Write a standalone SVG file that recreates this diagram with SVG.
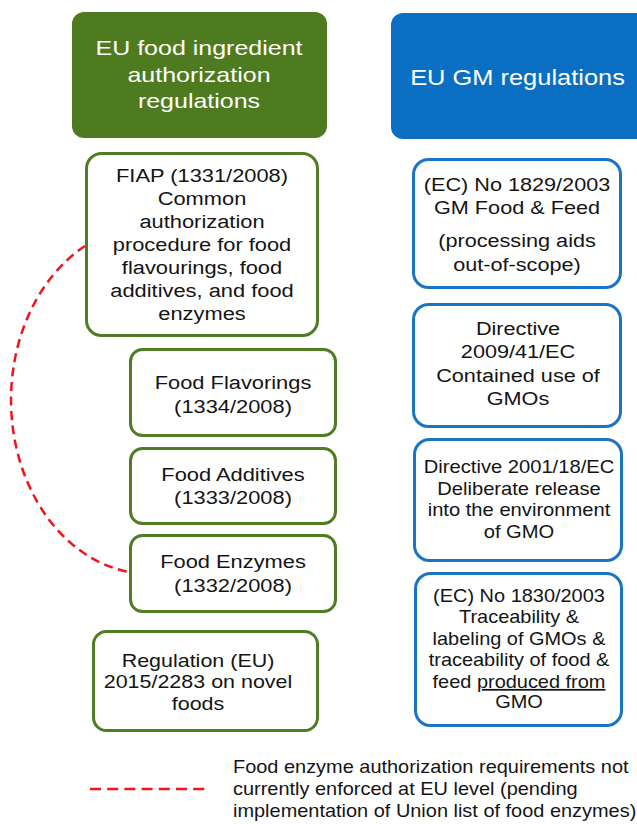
<svg xmlns="http://www.w3.org/2000/svg" width="637" height="824" viewBox="0 0 637 824">
<style>
  text { font-family: "Liberation Sans", Arial, sans-serif; fill: #141414; }
  .hdr { fill: #ffffff; }
  .c { text-anchor: middle; }
  .gbox { fill: #ffffff; stroke: #4f7d23; stroke-width: 3; }
  .bbox { fill: #ffffff; stroke: #1a74c4; stroke-width: 3; }
  .red { fill: none; stroke: #f2141c; stroke-width: 2.5; }
</style>
<rect width="637" height="824" fill="#ffffff"/>

<g id="hdr-food">
  <rect x="72" y="12" width="255" height="126" rx="12" fill="#4e7b1f"/>
  <g transform="translate(199 0) scale(1.19 1)" font-size="21">
    <text class="hdr c" x="0" y="55">EU food ingredient</text>
    <text class="hdr c" x="0" y="82">authorization</text>
    <text class="hdr c" x="0" y="108">regulations</text>
  </g>
</g>

<g id="hdr-gm">
  <rect x="391" y="13" width="270" height="126" rx="12" fill="#0a6fc2"/>
  <g transform="translate(517.5 0) scale(1.13 1)" font-size="22.5">
    <text class="hdr c" x="0" y="85">EU GM regulations</text>
  </g>
</g>

<g id="fiap">
  <rect class="gbox" x="86.5" y="153.5" width="231" height="182" rx="15"/>
  <g transform="translate(202 0) scale(1.15 1)" font-size="19">
    <text class="c" x="0" y="182">FIAP (1331/2008)</text>
    <text class="c" x="0" y="205">Common</text>
    <text class="c" x="0" y="228">authorization</text>
    <text class="c" x="0" y="251">procedure for food</text>
    <text class="c" x="0" y="274">flavourings, food</text>
    <text class="c" x="0" y="297">additives, and food</text>
    <text class="c" x="0" y="320">enzymes</text>
  </g>
</g>

<g id="flavorings">
  <rect class="gbox" x="130.5" y="349.5" width="205" height="86" rx="12"/>
  <g transform="translate(233 0) scale(1.15 1)" font-size="19">
    <text class="c" x="0" y="389">Food Flavorings</text>
    <text class="c" x="0" y="413">(1334/2008)</text>
  </g>
</g>

<g id="additives">
  <rect class="gbox" x="130.5" y="448.5" width="205" height="75" rx="12"/>
  <g transform="translate(233 0) scale(1.15 1)" font-size="19">
    <text class="c" x="0" y="481">Food Additives</text>
    <text class="c" x="0" y="504">(1333/2008)</text>
  </g>
</g>

<g id="enzymes">
  <rect class="gbox" x="130.5" y="535.5" width="205" height="76" rx="12"/>
  <g transform="translate(233 0) scale(1.15 1)" font-size="19">
    <text class="c" x="0" y="568">Food Enzymes</text>
    <text class="c" x="0" y="592">(1332/2008)</text>
  </g>
</g>

<g id="novel">
  <rect class="gbox" x="93.5" y="631.5" width="224" height="99" rx="13"/>
  <g transform="translate(198 0) scale(1.13 1)" font-size="19">
    <text class="c" x="0" y="667">Regulation (EU)</text>
    <text class="c" x="0" y="688">2015/2283 on novel</text>
    <text class="c" x="0" y="710">foods</text>
  </g>
</g>

<g id="gm1829">
  <rect class="bbox" x="413.5" y="159.5" width="207" height="128" rx="15"/>
  <g transform="translate(517 0) scale(1.14 1)" font-size="19">
    <text class="c" x="0" y="191">(EC) No 1829/2003</text>
    <text class="c" x="0" y="214">GM Food &amp; Feed</text>
    <text class="c" x="0" y="247">(processing aids</text>
    <text class="c" x="0" y="271">out-of-scope)</text>
  </g>
</g>

<g id="dir2009">
  <rect class="bbox" x="413.5" y="304.5" width="207" height="122" rx="15"/>
  <g transform="translate(518 0) scale(1.14 1)" font-size="19">
    <text class="c" x="0" y="335">Directive</text>
    <text class="c" x="0" y="358">2009/41/EC</text>
    <text class="c" x="0" y="382">Contained use of</text>
    <text class="c" x="0" y="405">GMOs</text>
  </g>
</g>

<g id="dir2001">
  <rect class="bbox" x="414.5" y="439.5" width="207" height="121" rx="15"/>
  <g transform="translate(519 0) scale(1.12 1)" font-size="18">
    <text class="c" x="0" y="473">Directive 2001/18/EC</text>
    <text class="c" x="0" y="495">Deliberate release</text>
    <text class="c" x="0" y="516.5">into the environment</text>
    <text class="c" x="0" y="538">of GMO</text>
  </g>
</g>

<g id="gm1830">
  <rect class="bbox" x="415.5" y="573.5" width="206" height="152" rx="15"/>
  <g transform="translate(519 0) scale(1.14 1)" font-size="17.5">
    <text class="c" x="0" y="602">(EC) No 1830/2003</text>
    <text class="c" x="0" y="623.5">Traceability &amp;</text>
    <text class="c" x="0" y="645">labeling  of GMOs &amp;</text>
    <text class="c" x="0" y="666.5">traceability of food &amp;</text>
    <text class="c" x="0" y="688">feed <tspan style="text-decoration:underline">produced from</tspan></text>
    <text class="c" x="0" y="708.5">GMO</text>
  </g>
</g>

<g id="connectors">
  <path class="red" stroke-dasharray="9 5.5" d="M 85 246 A 138.6 174 0 0 0 129 572"/>
</g>

<g id="legend">
  <line class="red" x1="90" y1="789" x2="205" y2="789" stroke-dasharray="11 6.2"/>
  <g transform="translate(233 0) scale(1.14 1)" font-size="17.5">
    <text x="0" y="773">Food enzyme authorization requirements not</text>
    <text x="0" y="795">currently enforced at EU level (pending</text>
    <text x="0" y="817">implementation of Union list of food enzymes)</text>
  </g>
</g>
</svg>
